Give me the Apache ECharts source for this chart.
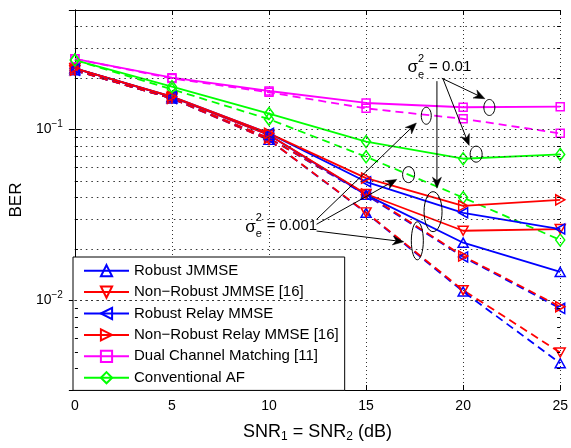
<!DOCTYPE html>
<html><head><meta charset="utf-8">
<script src="https://cdn.jsdelivr.net/npm/echarts@6/dist/echarts.min.js"></script>
<style>html,body{margin:0;padding:0;background:#fff}#c{width:571px;height:448px}</style>
</head><body><div id="c"></div>
<script>
// ---------- data ----------
const snr = [0, 5, 10, 15, 20, 25];
const xTicks = [0, 5, 10, 15, 20, 25];
const yTickLabels = ['10^-2', '10^-1'];
// sigma_e^2 = 0.01 (solid)
const robustJmmse01      = [0.228, 0.155, 0.093, 0.0415, 0.0218, 0.0147];
const nonRobustJmmse01   = [0.228, 0.155, 0.093, 0.0420, 0.0256, 0.0262];
const robustRelay01      = [0.228, 0.156, 0.095, 0.0495, 0.0326, 0.0262];
const nonRobustRelay01   = [0.228, 0.156, 0.095, 0.0520, 0.0358, 0.0388];
const dualChannel01      = [0.259, 0.201, 0.168, 0.143, 0.135, 0.136];
const conventionalAF01   = [0.255, 0.178, 0.124, 0.085, 0.0675, 0.0715];
// sigma_e^2 = 0.001 (dashed)
const robustJmmse001     = [0.222, 0.152, 0.087, 0.0326, 0.0113, 0.0043];
const nonRobustJmmse001  = [0.222, 0.152, 0.087, 0.0328, 0.0115, 0.00497];
const robustRelay001     = [0.222, 0.152, 0.089, 0.0415, 0.0180, 0.0090];
const nonRobustRelay001  = [0.222, 0.152, 0.089, 0.0420, 0.0182, 0.0092];
const dualChannel001     = [0.259, 0.199, 0.165, 0.133, 0.1155, 0.095];
const conventionalAF001  = [0.255, 0.172, 0.115, 0.0693, 0.0400, 0.0226];
// log grid values
const yGridValues = [0.004,0.005,0.006,0.007,0.008,0.009,0.01,0.02,0.03,0.04,0.05,0.06,0.07,0.08,0.09,0.1,0.2,0.3,0.4];
const yMinorTickValues = [0.004,0.005,0.006,0.007,0.008,0.009,0.02,0.03,0.04,0.05,0.06,0.07,0.08,0.09,0.2,0.3,0.4];

// ---------- styling ----------
const FONT = '"Liberation Sans", Arial, Helvetica, sans-serif';
const methods = [
  {name:'Robust JMMSE', color:'#0000FF', symbol:'triangle', rot:0, size:[10,9], hi:robustJmmse01, lo:robustJmmse001},
  {name:'Non\u2212Robust JMMSE [16]', color:'#FF0000', symbol:'triangle', rot:180, size:[10,9], hi:nonRobustJmmse01, lo:nonRobustJmmse001},
  {name:'Robust Relay MMSE', color:'#0000FF', symbol:'triangle', rot:90, size:[10,9], hi:robustRelay01, lo:robustRelay001},
  {name:'Non\u2212Robust Relay MMSE [16]', color:'#FF0000', symbol:'triangle', rot:-90, size:[10,9], hi:nonRobustRelay01, lo:nonRobustRelay001},
  {name:'Dual Channel Matching [11]', color:'#FF00FF', symbol:'rect', rot:0, size:8, hi:dualChannel01, lo:dualChannel001},
  {name:'Conventional AF', color:'#00FF00', symbol:'diamond', rot:0, size:[9,12], hi:conventionalAF01, lo:conventionalAF001}
];

function mkSeries(m, vals, dashed) {
  return {
    type:'line', name: dashed ? m.name + ' (0.001)' : m.name,
    data: snr.map((x,i)=>[x, vals[i]]),
    xAxisIndex:0, yAxisIndex:0,
    symbol:m.symbol, symbolSize:m.size, symbolRotate:m.rot, showSymbol:true,
    color:m.color,
    lineStyle:{color:m.color, width:1.8, type: dashed ? [8,5] : 'solid'},
    itemStyle:{color:'rgba(255,255,255,0)', borderColor:m.color, borderWidth:1.5},
    emphasis:{disabled:true}, silent:true, animation:false, z:3
  };
}

const series = [];
methods.forEach(m => { series.push(mkSeries(m, m.lo, true)); });
methods.forEach(m => { series.push(mkSeries(m, m.hi, false)); });

// grid lines & minor ticks on helper series via markLine
const gridLineData = yGridValues.map(v => ({yAxis:v}));
const minorTickData = [];
yMinorTickValues.forEach(v => {
  minorTickData.push([{coord:[0, v]}, {coord:[0.16, v]}]);
  minorTickData.push([{coord:[24.84, v]}, {coord:[25, v]}]);
});
series.push({
  type:'line', name:'_grid', data:[[0,0.1]], symbol:'none', lineStyle:{opacity:0}, silent:true, animation:false, z:1,
  markLine:{silent:true, symbol:'none', animation:false, label:{show:false},
    lineStyle:{color:'#333', width:1, type:[1.5,4]}, data:gridLineData}
});
series.push({
  type:'line', name:'_minor', data:[[0,0.1]], symbol:'none', lineStyle:{opacity:0}, silent:true, animation:false, z:1,
  markLine:{silent:true, symbol:'none', animation:false, label:{show:false},
    lineStyle:{color:'#000', width:1, type:'solid'}, data:minorTickData}
});

function yLabel(v){
  const l = Math.log10(v), r = Math.round(l);
  if (Math.abs(l - r) < 1e-6 && (r === -1 || r === -2)) return '{b|10}{s|\u2212' + (-r) + '}';
  return '';
}

const option = {
  animation:false,
  backgroundColor:'#fff',
  grid:{left:68, top:10, right:7, bottom:48, containLabel:false},
  legend:{
    data: methods.map(m=>m.name), orient:'vertical', left:73, top:257,
    itemWidth:45, itemHeight:14, itemGap:0, selectedMode:false,
    backgroundColor:'#fff', borderColor:'#000', borderWidth:1, borderRadius:0,
    padding:[3,6,2,10],
    textStyle:{fontFamily:FONT, fontSize:15, color:'#000', lineHeight:21.4}
  },
  xAxis:[
    {type:'value', min:0, max:25, interval:5, position:'bottom',
     axisLine:{show:true, lineStyle:{color:'#000', width:1}},
     axisTick:{show:true, inside:true, length:5, lineStyle:{color:'#000'}},
     axisLabel:{show:true, fontFamily:FONT, fontSize:14, color:'#000', margin:9},
     splitLine:{show:true, lineStyle:{color:'#333', width:1, type:[1,3]}},
     name:'SNR{sub|1} = SNR{sub|2} (dB)', nameLocation:'middle', nameGap:31,
     nameTextStyle:{fontFamily:FONT, fontSize:18, color:'#000',
       rich:{sub:{fontFamily:FONT, fontSize:12, color:'#000', padding:[10,0,0,0]}}}},
    {type:'value', min:0, max:25, interval:5, position:'top',
     axisLine:{show:true, lineStyle:{color:'#000', width:1}},
     axisTick:{show:true, inside:true, length:5, lineStyle:{color:'#000'}},
     axisLabel:{show:false}, splitLine:{show:false}}
  ],
  yAxis:[
    {type:'log', logBase:10, min:0.003, max:0.5, position:'left',
     axisLine:{show:true, lineStyle:{color:'#000', width:1}},
     axisTick:{show:true, inside:true, length:6, lineStyle:{color:'#000'}},
     splitLine:{show:false},
     axisLabel:{show:true, showMinLabel:false, showMaxLabel:false, margin:12, formatter:yLabel,
       rich:{b:{fontFamily:FONT, fontSize:14, color:'#000'},
             s:{fontFamily:FONT, fontSize:10, color:'#000', padding:[0,0,10,0]}}},
     name:'BER', nameLocation:'middle', nameGap:43, nameRotate:90,
     nameTextStyle:{fontFamily:FONT, fontSize:17, color:'#000'}},
    {type:'log', logBase:10, min:0.003, max:0.5, position:'right',
     axisLine:{show:true, lineStyle:{color:'#000', width:1}},
     axisTick:{show:true, inside:true, length:6, lineStyle:{color:'#000'}},
     axisLabel:{show:false}, splitLine:{show:false}}
  ],
  series: series
};

const chart = echarts.init(document.getElementById('c'), null, {renderer:'canvas'});
chart.setOption(option);

// ---------- annotations (anchored in data coordinates) ----------
const annoText01Anchor  = [17.14, 0.2335];
const annoText001Anchor = [8.77, 0.02722];
const annoArrows = [
  [[18.90, 0.1995], [21.12, 0.1515]],
  [[18.95, 0.1995], [20.31, 0.0808]],
  [[18.65, 0.1918], [18.65, 0.0454]],
  [[12.45, 0.02983], [17.59, 0.1092]],
  [[12.45, 0.02794], [16.58, 0.0511]],
  [[12.45, 0.0255], [16.94, 0.02207]]
];
const annoEllipses = [
  [21.35, 0.1346, 5.5, 8],
  [20.67, 0.0718, 6, 8],
  [18.45, 0.0331, 9, 20],
  [18.10, 0.1204, 5, 8.5],
  [17.19, 0.0545, 6, 8],
  [17.64, 0.02236, 6, 19]
];

function P(pt){ return chart.convertToPixel({seriesIndex:0}, pt); }
const g = [];
annoArrows.forEach(a => {
  const p0 = P(a[0]), p1 = P(a[1]);
  const dx = p1[0]-p0[0], dy = p1[1]-p0[1], L = Math.hypot(dx,dy);
  const ux = dx/L, uy = dy/L, nx = -uy, ny = ux;
  const hl = 11, hw = 4.5;
  const bx = p1[0]-ux*hl, by = p1[1]-uy*hl;
  g.push({type:'line', silent:true, z:50, shape:{x1:p0[0], y1:p0[1], x2:p1[0]-ux*6, y2:p1[1]-uy*6},
    style:{stroke:'#000', lineWidth:1}});
  g.push({type:'polygon', silent:true, z:50, shape:{points:[
      [p1[0], p1[1]], [bx+nx*hw, by+ny*hw], [p1[0]-ux*hl*0.7, p1[1]-uy*hl*0.7], [bx-nx*hw, by-ny*hw]]},
    style:{fill:'#000', stroke:'#000', lineWidth:0.5}});
});
annoEllipses.forEach(e => {
  const c = P([e[0], e[1]]);
  g.push({type:'ellipse', silent:true, z:50, shape:{cx:c[0], cy:c[1], rx:e[2], ry:e[3]},
    style:{fill:'none', stroke:'#000', lineWidth:1}});
});
function sigmaLabel(anchor, valueText){
  const p = P(anchor);
  const items = [
    {text:'\u03c3', dx:0, dy:1, size:17},
    {text:'2', dx:10.5, dy:-8, size:11},
    {text:'e', dx:10.5, dy:8, size:11},
    {text:'= ' + valueText, dx:21.5, dy:0, size:15}
  ];
  items.forEach(it => {
    g.push({type:'text', silent:true, z:60, x:p[0]+it.dx, y:p[1]+it.dy,
      style:{text:it.text, fill:'#000', font: it.size + 'px ' + FONT, align:'left', verticalAlign:'middle'}});
  });
}
sigmaLabel(annoText01Anchor, '0.01');
sigmaLabel(annoText001Anchor, '0.001');
chart.setOption({graphic:{elements:g}});
</script>
</body></html>
